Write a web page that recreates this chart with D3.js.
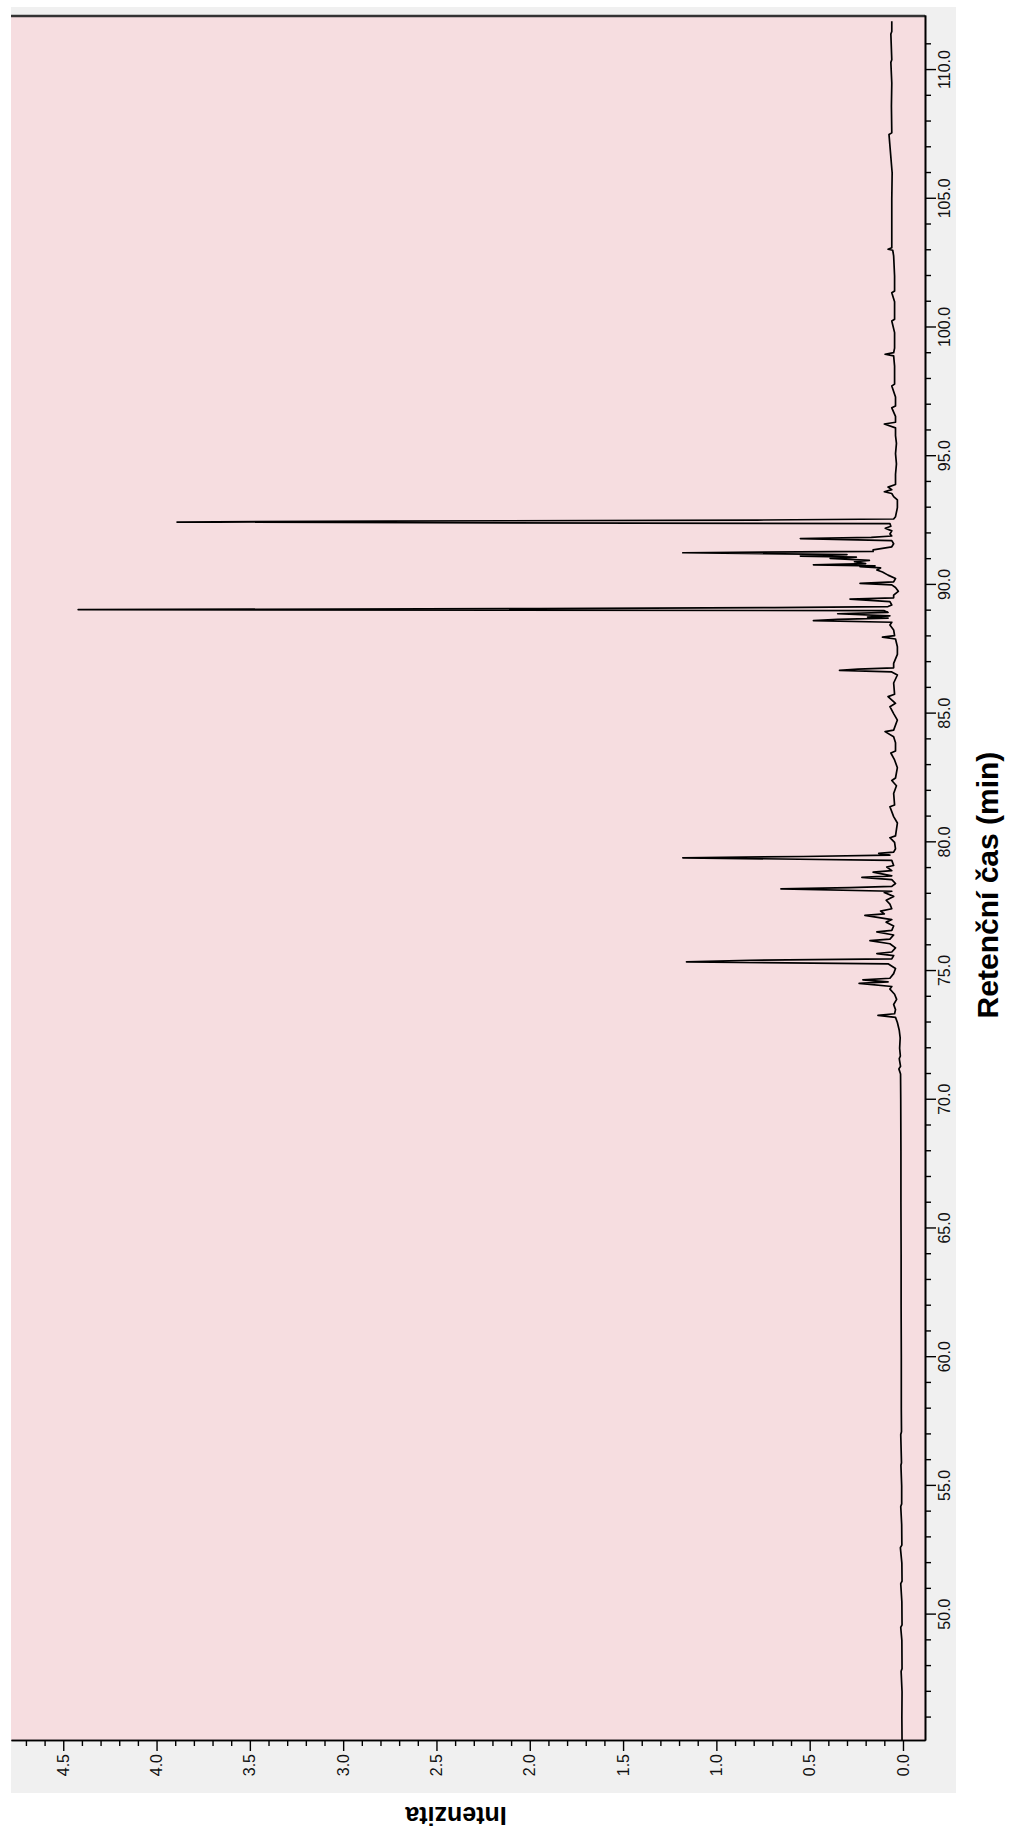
<!DOCTYPE html>
<html><head><meta charset="utf-8">
<script src="https://cdn.jsdelivr.net/npm/d3@7"></script>
<style>body{margin:0;background:#fff}svg{display:block}</style>
</head><body>
<svg id="c" width="1012" height="1832"></svg>
<script>
const timeTicks = [50, 55, 60, 65, 70, 75, 80, 85, 90, 95, 100, 105, 110];
const timeMinorTicks = [46,47,48,49,51,52,53,54,56,57,58,59,61,62,63,64,66,67,68,69,71,72,73,74,76,77,78,79,81,82,83,84,86,87,88,89,91,92,93,94,96,97,98,99,101,102,103,104,106,107,108,109,111];
const intensityTicks = [0.0, 0.5, 1.0, 1.5, 2.0, 2.5, 3.0, 3.5, 4.0, 4.5];
const intensityMinorTicks = [0.1,0.2,0.3,0.4,0.6,0.7,0.8,0.9,1.1,1.2,1.3,1.4,1.6,1.7,1.8,1.9,2.1,2.2,2.3,2.4,2.6,2.7,2.8,2.9,3.1,3.2,3.3,3.4,3.6,3.7,3.8,3.9,4.1,4.2,4.3,4.4,4.6,4.7];
const xTitle = "Retenční čas (min)";
const yTitle = "Intenzita";

const retentionTime = [
45.10,46.00,47.00,47.80,47.90,49.00,49.50,49.60,50.50,51.20,51.30,52.00,52.60,52.70,53.50,54.20,54.30,55.00,55.80,55.90,
57.00,57.10,58.00,60.00,62.00,64.00,66.00,68.00,70.00,71.00,71.20,71.30,71.60,71.70,72.00,72.40,72.70,73.00,73.20,73.28,
73.34,73.50,73.70,73.90,74.10,74.30,74.40,74.52,74.58,74.66,74.72,74.90,75.10,75.28,75.36,75.42,75.47,75.60,75.68,75.74,
75.90,76.06,76.18,76.24,76.40,76.52,76.58,76.75,76.90,77.00,77.16,77.22,77.33,77.42,77.60,77.75,77.90,78.05,78.10,78.19,
78.24,78.29,78.40,78.55,78.64,78.70,78.84,78.90,79.04,79.10,79.30,79.40,79.45,79.50,79.57,79.62,79.75,80.00,80.18,80.25,
80.75,81.00,81.38,81.45,81.90,82.20,82.40,82.50,82.90,83.20,83.47,83.55,83.87,84.10,84.30,84.36,84.75,85.00,85.27,85.40,
85.66,85.75,86.19,86.50,86.62,86.68,86.73,86.78,86.95,87.30,87.60,87.90,87.97,88.03,88.25,88.44,88.55,88.61,88.66,88.71,
88.75,88.80,88.88,88.93,89.00,89.04,89.08,89.12,89.16,89.22,89.35,89.45,89.50,89.60,89.75,89.90,90.00,90.06,90.12,90.25,
90.38,90.50,90.58,90.66,90.71,90.74,90.78,90.83,90.90,90.95,91.03,91.08,91.12,91.18,91.25,91.30,91.36,91.48,91.60,91.72,
91.80,91.85,91.90,91.98,92.10,92.20,92.28,92.38,92.44,92.48,92.52,92.56,92.65,93.00,93.30,93.43,93.55,93.62,93.70,93.80,
93.90,94.30,94.70,95.10,95.50,95.80,96.10,96.25,96.32,96.55,96.88,96.95,97.30,97.73,97.80,98.50,98.90,98.96,99.02,99.20,
99.80,100.25,100.32,101.00,101.35,101.42,102.00,102.78,103.00,103.04,103.10,103.80,105.00,106.00,107.50,107.56,108.60,109.50,110.30,110.40,
111.40,111.50,111.90
];
const intensity = [
0.005,0.006,0.005,0.010,0.005,0.006,0.012,0.005,0.006,0.012,0.005,0.006,0.014,0.006,0.007,0.012,0.007,0.007,0.011,0.008,
0.012,0.008,0.009,0.009,0.010,0.010,0.011,0.011,0.012,0.013,0.022,0.013,0.020,0.014,0.018,0.015,0.020,0.030,0.040,0.134,
0.045,0.040,0.050,0.034,0.045,0.070,0.060,0.235,0.080,0.215,0.070,0.050,0.040,0.080,1.160,0.820,0.060,0.050,0.140,0.060,
0.040,0.070,0.177,0.070,0.050,0.140,0.060,0.050,0.090,0.060,0.204,0.100,0.120,0.060,0.070,0.090,0.050,0.100,0.060,0.654,
0.284,0.060,0.040,0.060,0.220,0.060,0.160,0.060,0.087,0.050,0.060,1.180,0.535,0.070,0.130,0.050,0.040,0.045,0.070,0.040,
0.030,0.050,0.070,0.045,0.050,0.035,0.060,0.040,0.030,0.045,0.065,0.040,0.040,0.050,0.096,0.050,0.030,0.050,0.070,0.040,
0.080,0.045,0.050,0.030,0.060,0.340,0.240,0.050,0.050,0.030,0.030,0.040,0.110,0.045,0.050,0.070,0.060,0.480,0.350,0.080,
0.190,0.070,0.350,0.080,0.100,4.420,1.950,0.690,0.080,0.060,0.070,0.284,0.050,0.050,0.025,0.040,0.060,0.230,0.050,0.040,
0.080,0.110,0.140,0.120,0.230,0.150,0.480,0.200,0.260,0.180,0.390,0.250,0.550,0.300,1.180,0.160,0.160,0.060,0.050,0.060,
0.550,0.170,0.060,0.070,0.060,0.095,0.065,0.070,3.890,2.760,0.780,0.050,0.040,0.030,0.030,0.050,0.060,0.100,0.060,0.080,
0.040,0.040,0.035,0.040,0.035,0.040,0.040,0.100,0.040,0.040,0.060,0.040,0.040,0.060,0.045,0.045,0.050,0.096,0.050,0.045,
0.045,0.060,0.045,0.045,0.060,0.045,0.045,0.050,0.055,0.080,0.060,0.060,0.060,0.058,0.075,0.060,0.062,0.060,0.065,0.060,
0.065,0.060,0.060
];

const svg = d3.select("#c");
const font = "'Liberation Sans', Arial, sans-serif";
// panel background
svg.append("rect").attr("x", 11).attr("y", 7).attr("width", 945).attr("height", 1786).attr("fill", "#f0f0f0");

const plotLeft = 11, plotTop = 16, plotRight = 925, plotBottom = 1741;
const W = plotBottom - plotTop, H = plotRight - plotLeft;
// chart drawn in its natural orientation, then rotated a quarter turn
const g = svg.append("g").attr("transform", `translate(${plotLeft},${plotBottom}) rotate(-90)`);

const x = d3.scaleLinear().domain([45.09, 112.1]).range([0, W]);
const y = d3.scaleLinear().domain([-0.118, 4.78]).range([H, 0]);

g.append("rect").attr("width", W).attr("height", H).attr("fill", "#f6dde0");
g.append("clipPath").attr("id", "clip").append("rect").attr("width", W).attr("height", H);

const data = retentionTime.map((t, i) => ({ t, v: intensity[i] }));
g.append("path").datum(data)
  .attr("clip-path", "url(#clip)")
  .attr("fill", "none").attr("stroke", "#000").attr("stroke-width", 1.7)
  .attr("stroke-linejoin", "round")
  .attr("d", d3.line().x(d => x(d.t)).y(d => y(d.v)));

// frame line on far edge
g.append("line").attr("x1", W).attr("x2", W).attr("y1", 0).attr("y2", H)
  .attr("stroke", "#333").attr("stroke-width", 2.5);

function styleAxis(sel) {
  sel.selectAll("path.domain").attr("stroke", "#000").attr("stroke-width", 1.6);
  sel.selectAll(".tick line").attr("stroke", "#000").attr("stroke-width", 1.4);
  sel.selectAll("text").attr("font-family", font).attr("font-size", 16).attr("fill", "#111");
}

// time axis
g.append("g").attr("transform", `translate(0,${H})`)
  .call(d3.axisBottom(x).tickValues(timeMinorTicks).tickSize(6).tickSizeOuter(0).tickFormat(""))
  .call(styleAxis);
g.append("g").attr("transform", `translate(0,${H})`)
  .call(d3.axisBottom(x).tickValues(timeTicks).tickSize(11).tickSizeOuter(0).tickPadding(3).tickFormat(d3.format(".1f")))
  .call(styleAxis);

// intensity axis
g.append("g")
  .call(d3.axisLeft(y).tickValues(intensityMinorTicks).tickSize(5).tickSizeOuter(0).tickFormat(""))
  .call(styleAxis);
g.append("g")
  .call(d3.axisLeft(y).tickValues(intensityTicks).tickSize(10).tickSizeOuter(0).tickPadding(3).tickFormat(d3.format(".1f")))
  .call(styleAxis);

// axis titles
g.append("text").attr("x", 856).attr("y", H + 62)
  .attr("text-anchor", "middle").attr("dominant-baseline", "central")
  .attr("font-family", font).attr("font-weight", "bold").attr("font-size", 30).attr("fill", "#000")
  .text(xTitle);
g.append("text").attr("transform", `translate(-75,445) rotate(-90)`)
  .attr("text-anchor", "middle").attr("dominant-baseline", "central")
  .attr("font-family", font).attr("font-weight", "bold").attr("font-size", 25).attr("fill", "#000")
  .text(yTitle);
</script>
</body></html>
